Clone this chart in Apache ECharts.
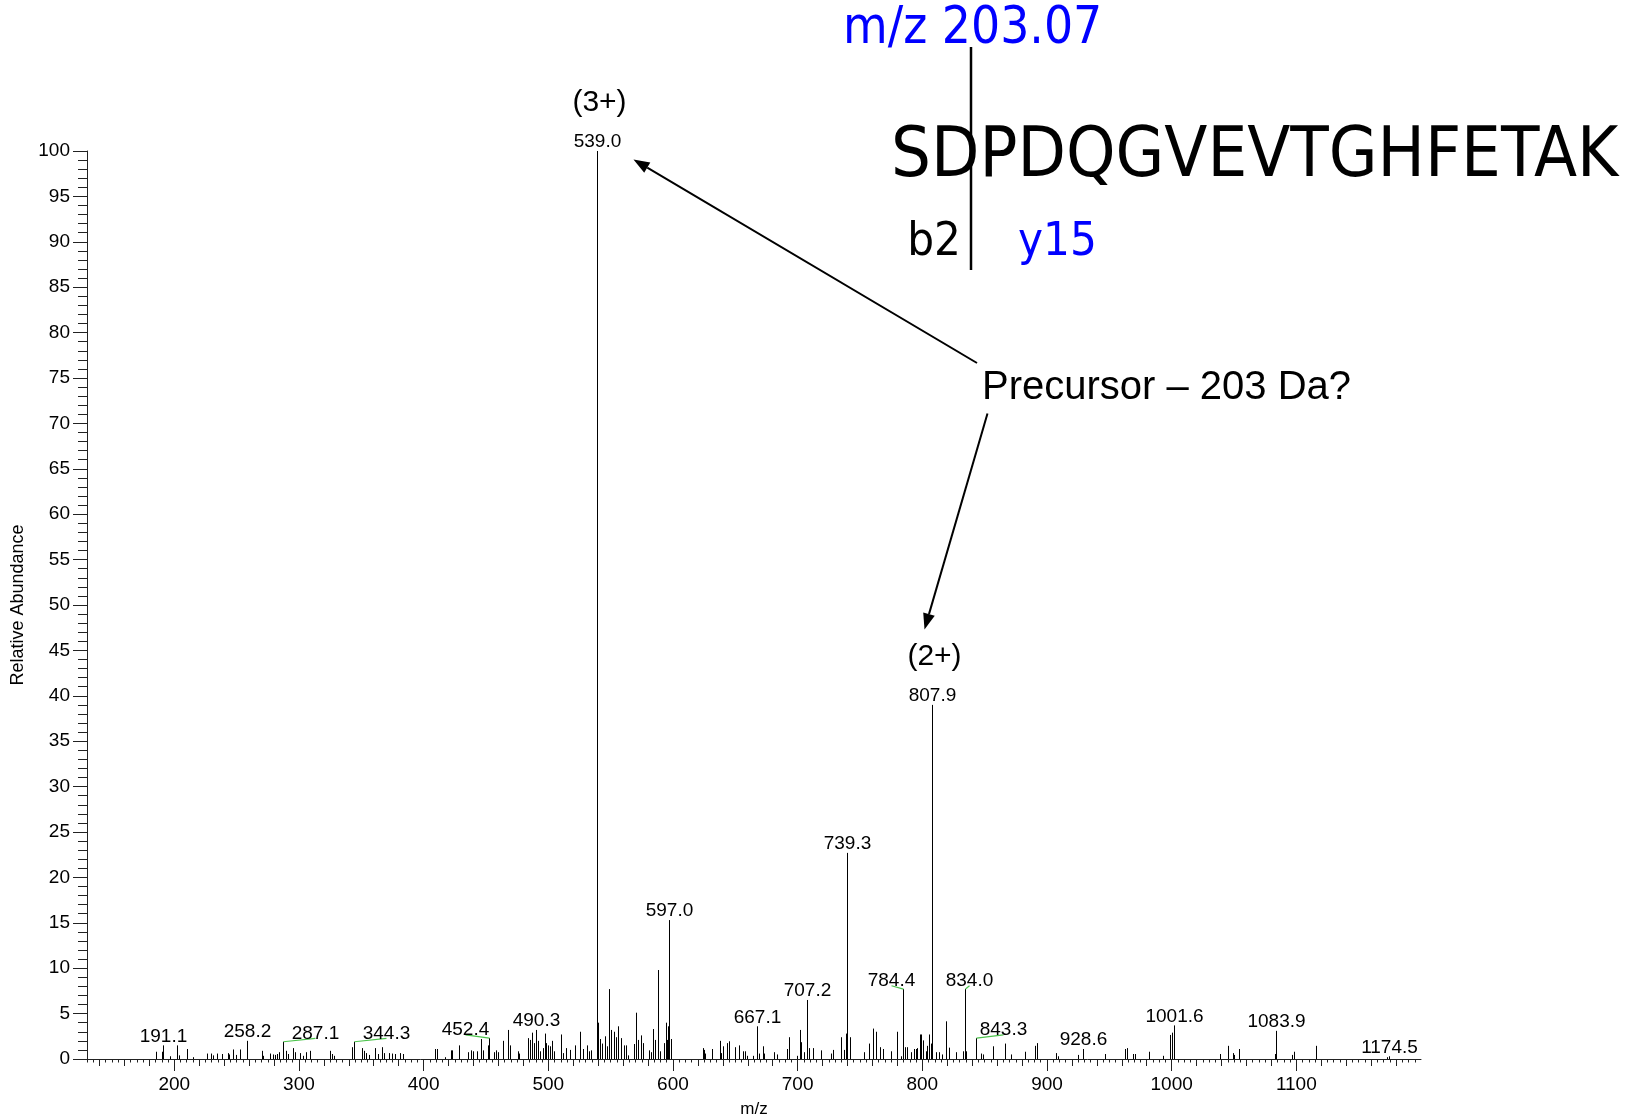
<!DOCTYPE html>
<html>
<head>
<meta charset="utf-8">
<title>MS/MS spectrum – SDPDQGVEVTGHFETAK</title>
<script src="https://cdn.jsdelivr.net/npm/echarts@6/dist/echarts.min.js"></script>
<style>
  html, body { margin: 0; padding: 0; background: #fff; }
  #chart { width: 1642px; height: 1119px; }
</style>
</head>
<body>
<div id="chart"></div>
<script>
// ---- spectrum data: centroided peaks (m/z, relative abundance %) ----
const peakMz = [
  185.0, 189.8, 191.1, 196.5, 202.1, 203.4, 210.1, 215.0, 225.9, 229.4,
  231.3, 234.0, 238.0, 242.8, 244.0, 246.8, 249.2, 252.7, 258.2, 270.1,
  271.4, 276.7, 278.9, 280.8, 282.6, 284.2, 287.1, 289.4, 291.5, 295.0,
  296.8, 300.9, 303.0, 305.7, 308.9, 325.0, 326.3, 328.2, 342.4, 344.3,
  350.5, 352.4, 354.0, 356.1, 360.9, 363.1, 366.6, 368.4, 371.9, 374.6,
  377.3, 380.8, 383.4, 409.1, 411.0, 417.2, 421.7, 423.0, 428.7, 435.4,
  437.8, 439.4, 442.6, 445.8, 448.0, 451.4, 452.4, 456.5, 458.1, 459.7,
  464.0, 467.5, 469.4, 476.1, 476.9, 483.6, 485.5, 487.1, 488.7, 490.3,
  491.9, 493.5, 495.6, 497.0, 498.3, 499.7, 501.0, 503.2, 504.8, 510.1,
  511.7, 514.4, 517.6, 521.6, 525.7, 527.8, 531.0, 532.4, 534.3, 539.0,
  540.2, 541.2, 543.3, 545.2, 547.1, 549.0, 550.3, 552.4, 554.5, 556.1,
  558.3, 561.0, 562.6, 564.2, 568.5, 570.6, 571.7, 574.4, 576.0, 580.6,
  582.4, 584.0, 585.9, 588.0, 589.4, 592.6, 594.2, 595.3, 596.2, 597.0,
  598.5, 623.7, 624.5, 625.9, 631.7, 637.4, 638.7, 639.8, 643.3, 644.6,
  650.0, 652.7, 655.9, 658.1, 659.4, 664.2, 667.1, 668.8, 672.0, 673.3,
  681.3, 683.5, 691.5, 692.8, 699.5, 701.7, 703.0, 704.9, 707.2, 708.9,
  712.4, 719.1, 727.1, 728.2, 734.9, 737.0, 738.4, 739.3, 742.4, 753.6,
  757.1, 760.3, 762.5, 766.0, 768.6, 774.5, 779.9, 783.3, 784.4, 785.8,
  787.9, 790.6, 793.3, 794.6, 796.0, 798.1, 799.2, 800.8, 802.7, 804.0,
  805.3, 806.7, 807.9, 810.7, 813.4, 816.0, 819.0, 821.2, 827.2, 832.8,
  834.0, 835.0, 843.3, 846.8, 848.6, 856.9, 866.0, 870.8, 882.0, 890.0,
  891.9, 907.2, 908.8, 924.6, 928.6, 946.3, 962.8, 964.2, 969.0, 970.4,
  981.6, 993.1, 999.0, 1000.0, 1001.6, 1039.0, 1044.9, 1049.2, 1050.2, 1054.2,
  1082.6, 1083.9, 1096.5, 1097.8, 1116.0, 1172.7, 1174.5
];
const peakAbundance = [
  0.8, 0.8, 1.5, 0.3, 1.5, 0.4, 1.1, 0.2, 0.6, 0.6,
  0.4, 0.6, 0.55, 0.65, 0.5, 1.05, 0.45, 1.05, 2.0, 0.9,
  0.35, 0.6, 0.5, 0.45, 0.55, 0.75, 1.9, 0.9, 0.55, 1.2,
  0.75, 0.65, 0.35, 0.75, 0.9, 0.9, 0.55, 0.35, 1.3, 1.9,
  1.2, 0.9, 0.65, 0.45, 1.2, 0.55, 1.3, 0.65, 0.65, 0.6,
  0.55, 0.65, 0.55, 1.1, 1.1, 0.2, 0.95, 0.95, 1.5, 0.75,
  0.95, 0.85, 0.85, 2.2, 0.95, 1.5, 2.3, 0.75, 0.95, 0.75,
  2.0, 3.2, 1.5, 0.85, 0.6, 2.3, 2.1, 2.9, 1.75, 3.2,
  2.0, 0.85, 1.2, 2.8, 1.75, 1.5, 1.4, 2.0, 0.85, 2.7,
  0.65, 1.2, 1.0, 1.5, 3.0, 1.1, 1.5, 0.85, 0.95, 100,
  4.0, 2.2, 1.7, 2.5, 1.4, 7.7, 3.2, 3.0, 2.4, 3.6,
  2.3, 1.5, 1.5, 0.4, 1.65, 5.1, 2.1, 2.6, 1.75, 0.95,
  0.75, 3.3, 2.1, 9.8, 0.85, 1.75, 4.0, 2.1, 3.6, 15.3,
  2.2, 1.2, 1.0, 0.6, 1.1, 2.0, 0.65, 1.4, 1.75, 1.95,
  1.3, 1.5, 0.85, 0.85, 0.35, 0.35, 3.6, 0.6, 1.4, 0.6,
  0.75, 0.5, 1.1, 2.4, 0.35, 3.2, 1.85, 0.75, 6.5, 1.2,
  1.2, 0.95, 0.6, 1.0, 2.4, 1.0, 2.8, 22.7, 2.4, 0.75,
  1.7, 3.35, 3.0, 1.3, 1.1, 0.85, 3.0, 0.3, 7.7, 1.3,
  1.3, 0.75, 1.1, 1.1, 1.2, 2.7, 2.7, 2.05, 0.85, 1.45,
  2.7, 1.7, 39.0, 0.75, 0.75, 0.5, 4.15, 1.25, 0.75, 0.85,
  7.7, 0.85, 2.3, 0.6, 0.5, 1.4, 1.7, 0.5, 0.8, 1.45,
  1.75, 0.65, 0.3, 0.45, 1.1, 0.55, 1.1, 1.2, 0.55, 0.55,
  0.8, 0.35, 2.65, 2.9, 3.7, 0.55, 1.45, 0.65, 0.45, 1.1,
  0.55, 3.1, 0.45, 0.8, 1.45, 0.2, 0.3
];

// peaks annotated with their m/z
const labeledMz = [
  191.1, 258.2, 287.1, 344.3, 452.4, 490.3, 539.0, 597.0, 667.1, 707.2,
  739.3, 784.4, 807.9, 834.0, 843.3, 928.6, 1001.6, 1083.9, 1174.5
];
// precursor charge states
const chargeLabels = { '539.0': '(3+)', '807.9': '(2+)' };

// x axis tick labels
const xTickLabels = [200, 300, 400, 500, 600, 700, 800, 900, 1000, 1100];
const X_MIN = 130, X_MAX = 1200;

// ---- layout / style settings ----
// labels moved sideways (px) and tied back to their peak with a leader line
const labelShift = { '287.1': 32, '344.3': 32, '452.4': -24, '784.4': -12, '834.0': 4, '843.3': 27 };
const FONT = '"Liberation Sans", Arial, Helvetica, sans-serif';
const AXIS_COLOR = '#222';

const abundanceOf = (mz) => peakAbundance[peakMz.indexOf(mz)];

// secondary tick rows of the m/z axis
const midTicks = [], fineTicks = [];
for (let v = X_MIN; v <= X_MAX; v += 5) {
  if (v % 100 === 0) continue;
  if (v % 20 === 0) midTicks.push(v); else fineTicks.push(v);
}

function tickAxis(values, len) {
  return {
    type: 'value', min: X_MIN, max: X_MAX, position: 'bottom', gridIndex: 0,
    axisLine: { show: false },
    axisTick: { show: true, customValues: values, length: len, lineStyle: { color: AXIS_COLOR, width: 1 } },
    axisLabel: { show: false },
    splitLine: { show: false }
  };
}

const chart = echarts.init(document.getElementById('chart'), null, { renderer: 'canvas' });

const option = {
  animation: false,
  backgroundColor: '#ffffff',
  grid: { left: 87, right: 221, top: 151, bottom: 60, containLabel: false, outerBoundsMode: 'none' },
  xAxis: [
    {
      type: 'value', min: X_MIN, max: X_MAX, position: 'bottom', gridIndex: 0,
      name: 'm/z', nameLocation: 'middle', nameGap: 42,
      nameTextStyle: { fontFamily: FONT, fontSize: 17, color: '#000' },
      axisLine: { show: true, onZero: false, lineStyle: { color: AXIS_COLOR, width: 1 } },
      axisTick: { show: true, customValues: xTickLabels, length: 12, lineStyle: { color: AXIS_COLOR, width: 1 } },
      axisLabel: {
        show: true, customValues: xTickLabels, margin: 16, fontFamily: FONT, fontSize: 19, color: '#000',
        formatter: v => String(v)
      },
      splitLine: { show: false }
    },
    tickAxis(midTicks, 7),
    tickAxis(fineTicks, 3.5)
  ],
  yAxis: {
    type: 'value', min: 0, max: 100, interval: 5,
    name: 'Relative Abundance', nameLocation: 'middle', nameGap: 55, nameRotate: 90,
    nameTextStyle: { fontFamily: FONT, fontSize: 18, color: '#000' },
    axisLine: { show: true, lineStyle: { color: AXIS_COLOR, width: 1 } },
    axisTick: { show: true, length: 14, lineStyle: { color: AXIS_COLOR, width: 1 } },
    minorTick: { show: true, splitNumber: 5, length: 9, lineStyle: { color: AXIS_COLOR, width: 1 } },
    axisLabel: { margin: 17, fontFamily: FONT, fontSize: 19, color: '#000', formatter: v => String(v) },
    splitLine: { show: false }
  },
  series: [
    {
      // the centroid sticks
      type: 'custom', name: 'spectrum', xAxisIndex: 0, yAxisIndex: 0,
      silent: true, clip: false,
      data: peakMz.map((m, i) => [m, peakAbundance[i]]),
      renderItem: function (params, api) {
        const base = api.coord([api.value(0), 0]);
        const top = api.coord([api.value(0), api.value(1)]);
        const x = Math.round(base[0]) + 0.5;
        return {
          type: 'line',
          shape: { x1: x, y1: base[1], x2: x, y2: top[1] },
          style: { stroke: '#000', lineWidth: 1 }
        };
      }
    },
    {
      // m/z annotations, leader lines and charge states
      type: 'custom', name: 'labels', xAxisIndex: 0, yAxisIndex: 0,
      silent: true, clip: false,
      data: labeledMz.map(m => [m, abundanceOf(m)]),
      renderItem: function (params, api) {
        const mz = api.value(0);
        const key = mz.toFixed(1);
        const top = api.coord([mz, api.value(1)]);
        const px = Math.round(top[0]) + 0.5;
        const children = [];
        let lx = px, glyphBottom = top[1] - 2;
        if (labelShift[key] !== undefined) {
          lx = px + labelShift[key];
          glyphBottom = top[1] - 3.3;
          children.push({
            type: 'line',
            shape: { x1: px, y1: top[1], x2: lx, y2: glyphBottom },
            style: { stroke: '#4cc34c', lineWidth: 1.2 }
          });
          glyphBottom += 2;
        }
        children.push({
          type: 'text',
          x: lx, y: glyphBottom - 7,
          style: { text: key, font: '19px ' + FONT, fill: '#000', align: 'center', verticalAlign: 'middle' }
        });
        if (chargeLabels[key]) {
          children.push({
            type: 'text',
            x: px + 2, y: glyphBottom - 46,
            style: { text: chargeLabels[key], font: '30px ' + FONT, fill: '#000', align: 'center', verticalAlign: 'middle' }
          });
        }
        return { type: 'group', children: children };
      }
    }
  ]
};

// ---- fragmentation diagram and precursor-loss callout ----
function arrow(x1, y1, x2, y2) {
  const dx = x2 - x1, dy = y2 - y1, len = Math.hypot(dx, dy);
  const ux = dx / len, uy = dy / len;
  const headLen = 16, headHalf = 6;
  const bx = x2 - ux * headLen, by = y2 - uy * headLen;
  return [
    { type: 'line', shape: { x1: x1, y1: y1, x2: bx, y2: by }, style: { stroke: '#000', lineWidth: 2 } },
    {
      type: 'polygon',
      shape: { points: [[x2, y2], [bx - uy * headHalf, by + ux * headHalf], [bx + uy * headHalf, by - ux * headHalf]] },
      style: { fill: '#000' }
    }
  ];
}

const SEQ_FONT = '"DejaVu Sans Condensed", "DejaVu Sans", sans-serif';
option.graphic = [
  { type: 'text', x: 843, y: 30, style: { text: 'm/z 203.07', font: '51px ' + SEQ_FONT, fill: '#0000ff', verticalAlign: 'middle' } },
  { type: 'line', shape: { x1: 971, y1: 47, x2: 971, y2: 270 }, style: { stroke: '#000', lineWidth: 2.5 } },
  { type: 'text', x: 891, y: 158, style: { text: 'SDPDQGVEVTGHFETAK', font: '70px ' + SEQ_FONT, fill: '#000', verticalAlign: 'middle' } },
  { type: 'text', x: 961, y: 243, style: { text: 'b2', font: '47px ' + SEQ_FONT, fill: '#000', align: 'right', verticalAlign: 'middle' } },
  { type: 'text', x: 1018, y: 243, style: { text: 'y15', font: '47px ' + SEQ_FONT, fill: '#0000ff', verticalAlign: 'middle' } },
  { type: 'text', x: 982, y: 388, style: { text: 'Precursor – 203 Da?', font: '40px ' + FONT, fill: '#000', verticalAlign: 'middle' } }
].concat(arrow(977, 363, 633.5, 159.5), arrow(987.5, 413.5, 924.5, 629.5));

chart.setOption(option);
</script>
</body>
</html>
